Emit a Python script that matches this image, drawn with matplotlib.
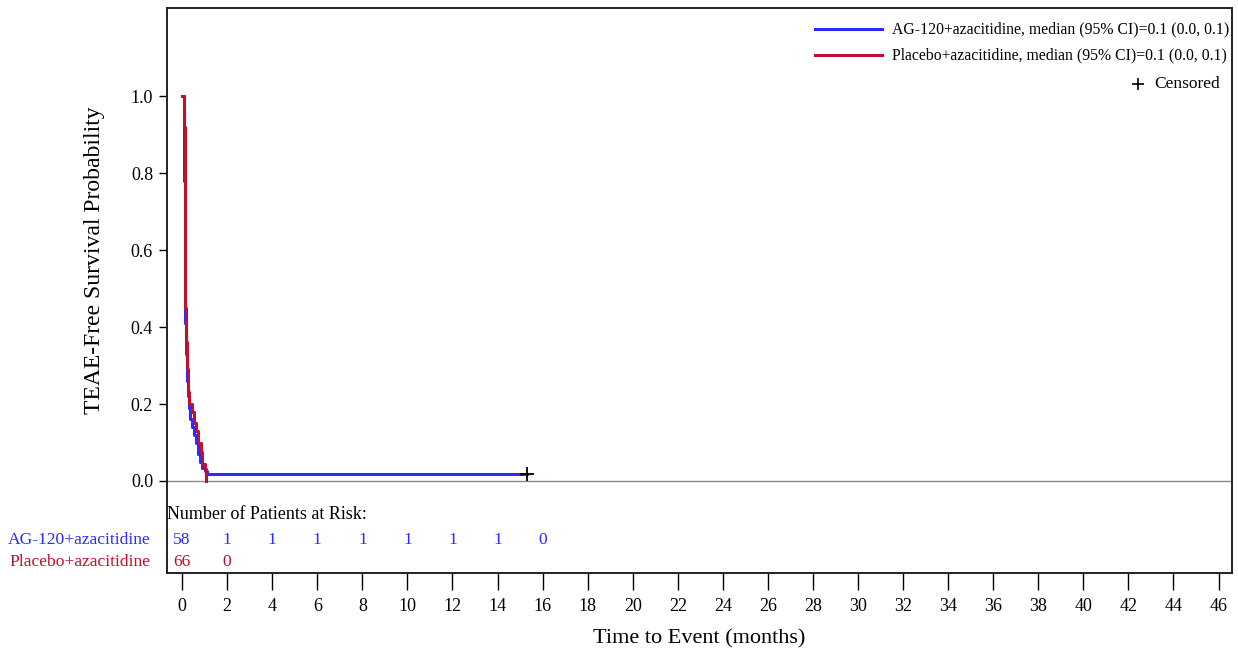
import matplotlib.pyplot as plt
from matplotlib.lines import Line2D

plt.rcParams["font.family"] = ["Liberation Serif", "DejaVu Serif"]

# Kaplan-Meier step points (time in months, survival probability)
ag_times = [0, 0.08, 0.1, 0.12, 0.13, 0.15, 0.17, 0.2, 0.24, 0.3, 0.37, 0.45,
            0.52, 0.6, 0.7, 0.8, 0.9, 1.0, 1.1, 15.3]
ag_surv = [1.0, 0.90, 0.78, 0.62, 0.52, 0.41, 0.33, 0.26, 0.22, 0.19, 0.16, 0.14,
           0.12, 0.10, 0.07, 0.05, 0.034, 0.026, 0.017, 0.017]
pl_times = [0, 0.1, 0.11, 0.12, 0.13, 0.15, 0.18, 0.21, 0.25, 0.32, 0.42, 0.52,
            0.62, 0.72, 0.82, 0.9, 1.0, 1.07]
pl_surv = [1.0, 0.92, 0.80, 0.68, 0.56, 0.45, 0.36, 0.29, 0.23, 0.20, 0.18, 0.15,
           0.13, 0.10, 0.076, 0.045, 0.03, 0.0]
censor_t = [15.3]
censor_s = [0.017]

arm_names = ["AG-120+azacitidine", "Placebo+azacitidine"]
legend_labels = ["AG-120+azacitidine, median (95% CI)=0.1 (0.0, 0.1)",
                 "Placebo+azacitidine, median (95% CI)=0.1 (0.0, 0.1)"]
risk_times = [0, 2, 4, 6, 8, 10, 12, 14, 16]
ag_risk = [58, 1, 1, 1, 1, 1, 1, 1, 0]
pl_risk = [66, 0]

BLUE = "#2b2bff"
RED = "#c0102c"

fig = plt.figure(figsize=(12.38, 6.57), dpi=100)
ax = fig.add_axes([0.1349, 0.1279, 0.8603, 0.8599])

ax.step(ag_times, ag_surv, where="post", color=BLUE, lw=2.2, zorder=3)
ax.step(pl_times, pl_surv, where="post", color=RED, lw=2.2, zorder=4)
ax.plot(censor_t, censor_s, "+", color="black", ms=10, mew=1.3, zorder=5)
ax.axhline(0, color="#888888", lw=1, zorder=1)

ax.set_xlim(-0.67, 46.6)
ax.set_ylim(-0.239, 1.229)
ax.set_xticks(range(0, 47, 2))
ax.set_yticks([0, 0.2, 0.4, 0.6, 0.8, 1.0])
ax.set_yticklabels(["0.0", "0.2", "0.4", "0.6", "0.8", "1.0"])
ax.tick_params(axis="x", direction="out", length=12, width=1, pad=6, labelsize=13)
ax.tick_params(axis="y", direction="out", length=6, width=1, pad=4, labelsize=13)
for sp in ax.spines.values():
    sp.set_linewidth(1.4)
    sp.set_color("#222222")

ax.set_xlabel("Time to Event (months)", fontsize=16, labelpad=10)
ax.set_ylabel("TEAE-Free Survival Probability", fontsize=17)
ax.yaxis.set_label_coords(-0.058, 0.554)

# at-risk table
ax.text(-0.67, -0.088, "Number of Patients at Risk:", fontsize=13,
        ha="left", va="center")
ax.text(-1.42, -0.153, arm_names[0], color=BLUE, fontsize=12.6,
        ha="right", va="center", clip_on=False)
ax.text(-1.42, -0.210, arm_names[1], color=RED, fontsize=12.6,
        ha="right", va="center", clip_on=False)
for t, n in zip(risk_times, ag_risk):
    ax.text(t, -0.153, str(n), color=BLUE, fontsize=12.6, ha="center", va="center")
for t, n in zip(risk_times, pl_risk):
    ax.text(t, -0.210, str(n), color=RED, fontsize=12.6, ha="center", va="center")

# legend drawn by hand to match layout
for y, c, lab in zip([0.962, 0.916], [BLUE, RED], legend_labels):
    ax.add_line(Line2D([0.6085, 0.6714], [y, y], color=c, lw=2.2,
                       transform=ax.transAxes))
    ax.text(0.6807, y, lab, fontsize=11.3, ha="left", va="center",
            transform=ax.transAxes)
ax.plot([0.9113], [0.866], "+", color="black", ms=8, mew=1.2,
        transform=ax.transAxes)
ax.text(0.9268, 0.866, "Censored", fontsize=12.5, ha="left", va="center",
        transform=ax.transAxes)

fig.savefig("out.png", dpi=100)
